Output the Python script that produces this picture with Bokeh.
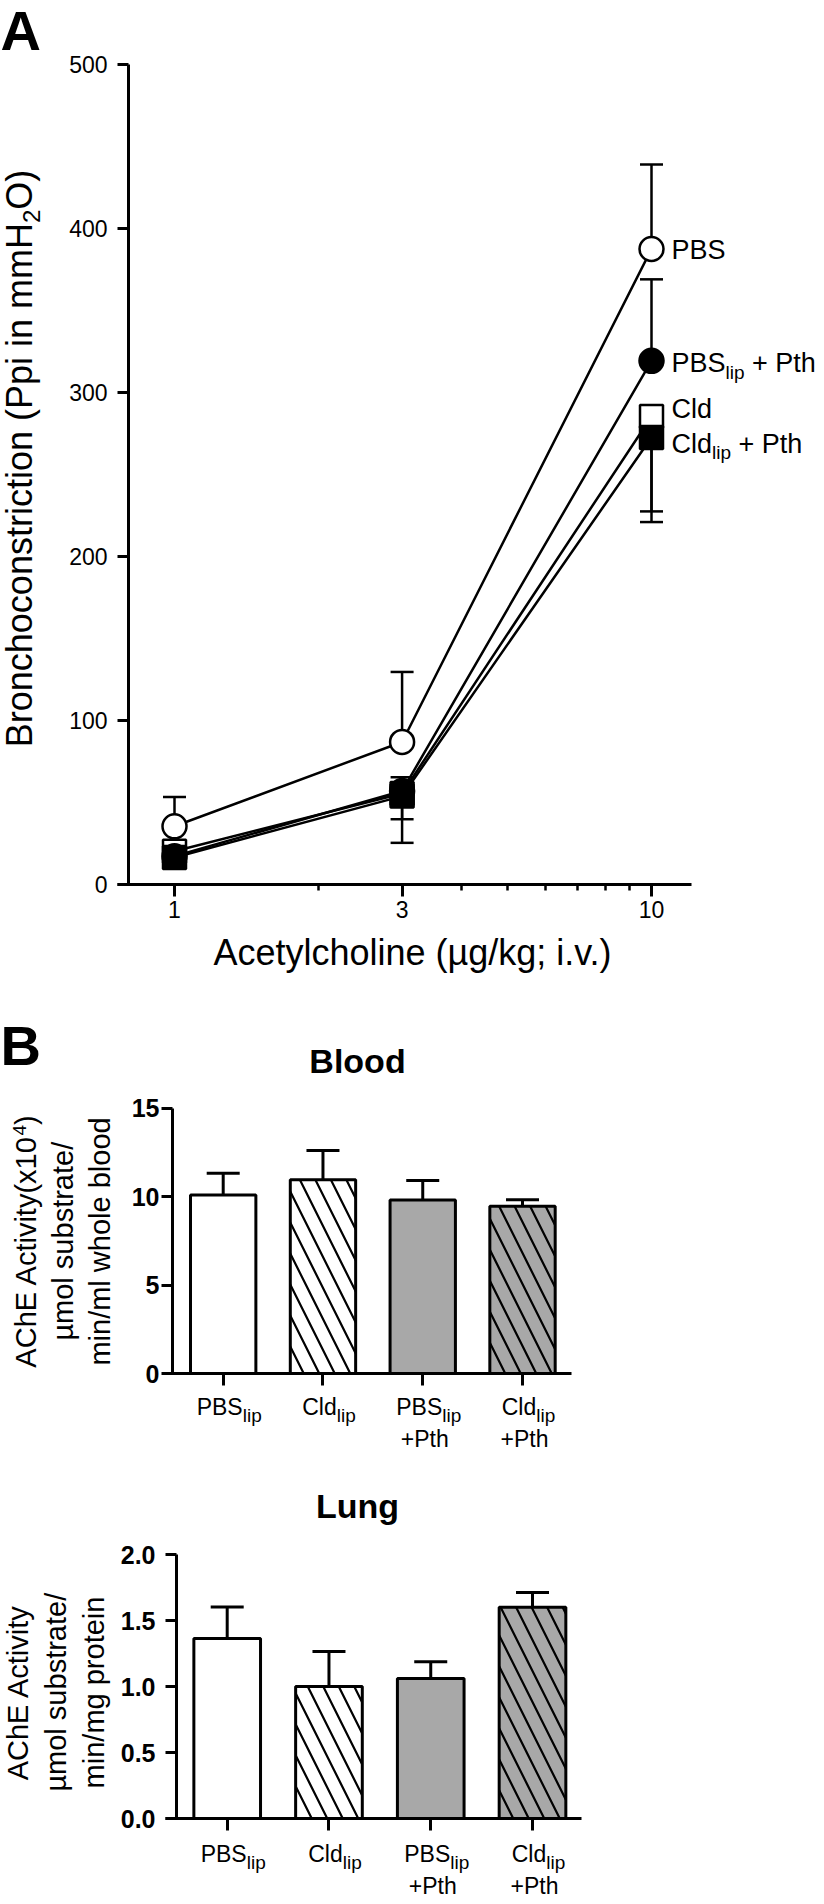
import numpy as np
from bokeh.plotting import figure
from bokeh.models import (Range1d, FixedTicker, BasicTickFormatter, NumeralTickFormatter,
                          Label, ColumnDataSource)
from bokeh.layouts import column
from bokeh.embed import file_html
from bokeh.resources import INLINE

# ---------------- data ----------------
dose = [1, 3, 10]
dose_ticks = [1, 3, 10]
dose_minor = [2, 4, 5, 6, 7, 8, 9]
yticks_a = [0, 100, 200, 300, 400, 500]

pbs = [35.5, 86.9, 387.5]
pbs_err_up = [17.9, 42.7, 51.5]
pbs_pth = [17.3, 57.0, 319.3]
pbs_pth_err_up = [4.0, 8.4, 49.7]
cld = [20.3, 55.5, 285.4]
cld_err_down = [4.0, 30.1, 64.4]
cld_pth = [16.5, 53.9, 272.6]
cld_pth_err_down = [3.0, 14.1, 45.1]

groups = ["PBS", "Cld", "PBS", "Cld"]
group_sub = ["lip", "lip", "lip", "lip"]
group_line2 = ["", "", "+Pth", "+Pth"]
blood_mean = [10.1, 10.96, 9.82, 9.46]
blood_sem = [1.23, 1.66, 1.10, 0.38]
lung_mean = [1.364, 1.0, 1.061, 1.601]
lung_sem = [0.239, 0.265, 0.126, 0.111]
blood_ticks = [0, 5, 10, 15]
lung_ticks = [0, 0.5, 1.0, 1.5, 2.0]

# ---------------- text helpers ----------------
FONT = "Liberation Sans"
MID = 0.35   # distance from the alphabetic baseline to the text middle, in em
AW = {' ': 278, '(': 333, ')': 333, '+': 584, '.': 278, '/': 278, ';': 278, ',': 278,
      'A': 667, 'B': 667, 'C': 722, 'E': 667, 'H': 722, 'O': 778, 'P': 667, 'S': 667,
      'a': 556, 'b': 556, 'c': 500, 'd': 556, 'e': 556, 'g': 556, 'h': 556, 'i': 222,
      'k': 500, 'l': 222, 'm': 833, 'n': 556, 'o': 556, 'p': 556, 'r': 333, 's': 500,
      't': 278, 'u': 556, 'v': 500, 'w': 722, 'x': 500, 'y': 500, '\u00b5': 556}
for _d in "0123456789":
    AW[_d] = 556


def tw(s, size):
    return sum(AW.get(c, 556) for c in s) * size / 1000.0


def label(p, x, y, dx, dy, text, size, bold=False, angle=0.0, align="left"):
    """(dx, dy): offset in px of the text baseline from data point (x, y); dy down."""
    if angle == 0.0:
        dy -= MID * size
    else:
        dx -= MID * size
    p.add_layout(Label(x=x, y=y, x_units="data", y_units="data",
                       x_offset=dx, y_offset=-dy, text=text,
                       text_font=FONT, text_font_size=f"{size}px",
                       text_font_style="bold" if bold else "normal",
                       text_color="black", text_align=align,
                       text_baseline="middle", angle=angle))


def rich_h(p, x, y, dx, dy, pieces, center=False):
    total = sum(tw(t, s) for t, s, sh in pieces)
    cx = dx - total / 2.0 if center else dx
    for t, s, sh in pieces:
        body = t.lstrip(" ")
        lead = tw(t[:len(t) - len(body)], s)
        if body:
            label(p, x, y, cx + lead, dy + sh, body, s)
        cx += tw(t, s)


def rich_v(p, x, y, dx, dy, pieces):
    total = sum(tw(t, s) for t, s, sh in pieces)
    cy = dy + total / 2.0
    for t, s, sh in pieces:
        label(p, x, y, dx + sh, cy, t, s, angle=np.pi / 2)
        cy -= tw(t, s)


def style(p):
    p.outline_line_color = None
    p.xgrid.visible = False
    p.ygrid.visible = False
    p.background_fill_color = "white"
    p.border_fill_color = "white"
    for ax in p.axis:
        ax.axis_line_width = 3
        ax.axis_line_color = "black"
        ax.major_tick_line_width = 3
        ax.major_tick_line_color = "black"
        ax.minor_tick_line_width = 2.5
        ax.minor_tick_line_color = "black"
        ax.major_tick_in = 0
        ax.minor_tick_in = 0
        ax.major_label_text_font = FONT
        ax.major_label_text_color = "black"


PAGE_L, FIG_W = 0, 824   # figure left edge on the page, figure width

# ================= Panel A =================
# page layout: figure spans page y 0..1000; dose 1 at page x 174, 477 px per decade,
# value 0 at page y 884, 1.64 px per unit; axes span page x 117..691, y axis at x 128
A_TOP, A_H = 0, 1000
A_X1, A_DEC = 174.0, 477.0
A_Y0, A_PPU = 884.0, 1.64


def a_xval(X):
    return 10 ** ((X - A_X1) / A_DEC)


pA = figure(width=FIG_W, height=A_H, x_axis_type="log",
            x_range=Range1d(a_xval(PAGE_L), a_xval(PAGE_L + FIG_W)),
            y_range=Range1d(-(A_TOP + A_H - A_Y0) / A_PPU, (A_Y0 - A_TOP) / A_PPU),
            output_backend="svg", toolbar_location=None, min_border=0)
style(pA)
pA.xaxis.ticker = FixedTicker(ticks=dose_ticks, minor_ticks=dose_minor)
pA.xaxis.formatter = BasicTickFormatter()
pA.xaxis.major_tick_out = 12
pA.xaxis.minor_tick_out = 6
pA.xaxis.major_label_standoff = 4
pA.xaxis.major_label_text_font_size = "23px"
pA.xaxis.fixed_location = 0
pA.xaxis.bounds = (a_xval(117), a_xval(691))
pA.yaxis.ticker = FixedTicker(ticks=yticks_a, minor_ticks=[])
pA.yaxis.major_tick_out = 11
pA.yaxis.major_label_standoff = 10
pA.yaxis.major_label_text_font_size = "23px"
pA.yaxis.fixed_location = a_xval(128)
pA.yaxis.bounds = (yticks_a[0], yticks_a[-1])

d = np.array(dose, dtype=float)
err_sets = [(np.array(pbs), np.array(pbs) + np.array(pbs_err_up)),
            (np.array(pbs_pth), np.array(pbs_pth) + np.array(pbs_pth_err_up)),
            (np.array(cld), np.array(cld) - np.array(cld_err_down)),
            (np.array(cld_pth), np.array(cld_pth) - np.array(cld_pth_err_down))]
for y0, y1 in err_sets:
    pA.segment(x0=d, y0=y0, x1=d, y1=y1, line_color="black", line_width=2.5)
    pA.scatter(d, y1, marker="dash", size=23, line_color="black", line_width=2.5)

for ser in (pbs, pbs_pth, cld, cld_pth):
    pA.line(d, ser, line_color="black", line_width=2.5)

pA.scatter(d, cld, marker="square", size=23, fill_color="white", line_color="black", line_width=2.5)
pA.scatter(d, pbs_pth, marker="circle", size=24, fill_color="black", line_color="black", line_width=2.5)
pA.scatter(d, cld_pth, marker="square", size=23, fill_color="black", line_color="black", line_width=2.5)
pA.scatter(d, pbs, marker="circle", size=24, fill_color="white", line_color="black", line_width=2.5)

# series labels at the last dose (offsets: text baseline relative to marker centre)
rich_h(pA, dose[-1], pbs[-1], 20, 10, [("PBS", 27, 0)])
rich_h(pA, dose[-1], pbs_pth[-1], 20, 12, [("PBS", 27, 0), ("lip", 19, 6), (" + Pth", 27, 0)])
rich_h(pA, dose[-1], cld[-1], 20, 2, [("Cld", 27, 0)])
rich_h(pA, dose[-1], cld_pth[-1], 20, 16, [("Cld", 27, 0), ("lip", 19, 6), (" + Pth", 27, 0)])

# panel letter and axis titles, anchored at data (1, 0) = page (174, 884)
label(pA, 1, 0, 0 - A_X1, 50 - A_Y0, "A", 56, bold=True)
rich_v(pA, 1, 0, 32 - A_X1, 458 - A_Y0,
       [("Bronchoconstriction (Ppi in mmH", 36, 0), ("2", 24, 7), ("O)", 36, 0)])
label(pA, 1, 0, 412 - A_X1, 965 - A_Y0, "Acetylcholine (\u00b5g/kg; i.v.)", 36, align="center")

# ================= Panel B =================
idx = list(range(1, len(groups) + 1))
bar_fill = ["white", "white", "#A8A8A8", "#A8A8A8"]
bar_hatch = [" ", "\\", " ", "\\"]


def bar_panel(top, height, x1_page, ppx, y0_page, ppy, ax_left, ax_right, yax_x,
              ymax, means, sems, ticks, fmt, standoff):
    def xval(X):
        return 1 + (X - x1_page) / ppx
    p = figure(width=FIG_W, height=height,
               x_range=Range1d(xval(PAGE_L), xval(PAGE_L + FIG_W)),
               y_range=Range1d(-(top + height - y0_page) / ppy, (y0_page - top) / ppy),
               output_backend="svg", toolbar_location=None, min_border=0)
    style(p)
    src = ColumnDataSource(dict(x=idx, top=means, fill=bar_fill, hatch=bar_hatch))
    p.vbar(x="x", top="top", bottom=0, width=0.655, source=src, fill_color="fill",
           line_color="black", line_width=3, hatch_pattern="hatch", hatch_color="black",
           hatch_weight=2.2, hatch_scale=31)
    up = np.array(means) + np.array(sems)
    p.segment(x0=idx, y0=means, x1=idx, y1=up, line_color="black", line_width=3)
    p.scatter(idx, up, marker="dash", size=33, line_color="black", line_width=3)
    p.xaxis.ticker = FixedTicker(ticks=idx, minor_ticks=[])
    p.xaxis.major_tick_out = 12
    p.xaxis.major_label_text_color = None
    p.xaxis.fixed_location = 0
    p.xaxis.bounds = (xval(ax_left), xval(ax_right))
    p.yaxis.ticker = FixedTicker(ticks=ticks, minor_ticks=[])
    p.yaxis.formatter = fmt
    p.yaxis.major_tick_out = 11
    p.yaxis.major_label_standoff = standoff
    p.yaxis.major_label_text_font_size = "25px"
    p.yaxis.major_label_text_font_style = "bold"
    p.yaxis.fixed_location = xval(yax_x)
    p.yaxis.bounds = (0, ymax)
    return p


def cat_labels(p, base_dy, line2_dy):
    for i, g, s, l2 in zip(idx, groups, group_sub, group_line2):
        rich_h(p, i, 0, 6, base_dy, [(g, 23, 0), (s, 19, 7)], center=True)
        if l2:
            label(p, i, 0, 2, line2_dy, l2, 23, align="center")


# ---- Blood: figure page y 1000..1460; group 1 at page x 222.7, 99.77 px/group,
#      0 at page y 1373, 17.667 px/unit
B_X1, B_Y0 = 222.7, 1373.0
pB = bar_panel(1000, 460, B_X1, 99.77, B_Y0, 17.667, 162, 571, 172, 15,
               blood_mean, blood_sem, blood_ticks, BasicTickFormatter(), 2)
cat_labels(pB, 1415 - B_Y0, 1447 - B_Y0)
label(pB, 1, 0, 0 - B_X1, 1065 - B_Y0, "B", 56, bold=True)
label(pB, 1, 0, 357 - B_X1, 1072 - B_Y0, "Blood", 34, bold=True, align="center")
rich_v(pB, 1, 0, 36 - B_X1, 1241 - B_Y0, [("AChE Activity(x10", 29, 0), ("4", 19, -10), (")", 29, 0)])
rich_v(pB, 1, 0, 73 - B_X1, 1241 - B_Y0, [("\u00b5mol substrate/", 29, 0)])
rich_v(pB, 1, 0, 110 - B_X1, 1241 - B_Y0, [("min/ml whole blood", 29, 0)])

# ---- Lung: figure page y 1460..1904; group 1 at page x 226.7, 101.77 px/group,
#      0 at page y 1818, 132 px/unit
L_X1, L_Y0 = 226.7, 1818.0
pL = bar_panel(1460, 444, L_X1, 101.77, L_Y0, 132.0, 165, 581, 176, 2,
               lung_mean, lung_sem, lung_ticks, NumeralTickFormatter(format="0.0"), 10)
cat_labels(pL, 1862 - L_Y0, 1894 - L_Y0)
label(pL, 1, 0, 357 - L_X1, 1517 - L_Y0, "Lung", 34, bold=True, align="center")
rich_v(pL, 1, 0, 28 - L_X1, 1692 - L_Y0, [("AChE Activity", 29, 0)])
rich_v(pL, 1, 0, 66 - L_X1, 1692 - L_Y0, [("\u00b5mol substrate/", 29, 0)])
rich_v(pL, 1, 0, 104 - L_X1, 1692 - L_Y0, [("min/mg protein", 29, 0)])

layout = column(pA, pB, pL, spacing=0)
open("out.html", "w").write(file_html(layout, INLINE))
